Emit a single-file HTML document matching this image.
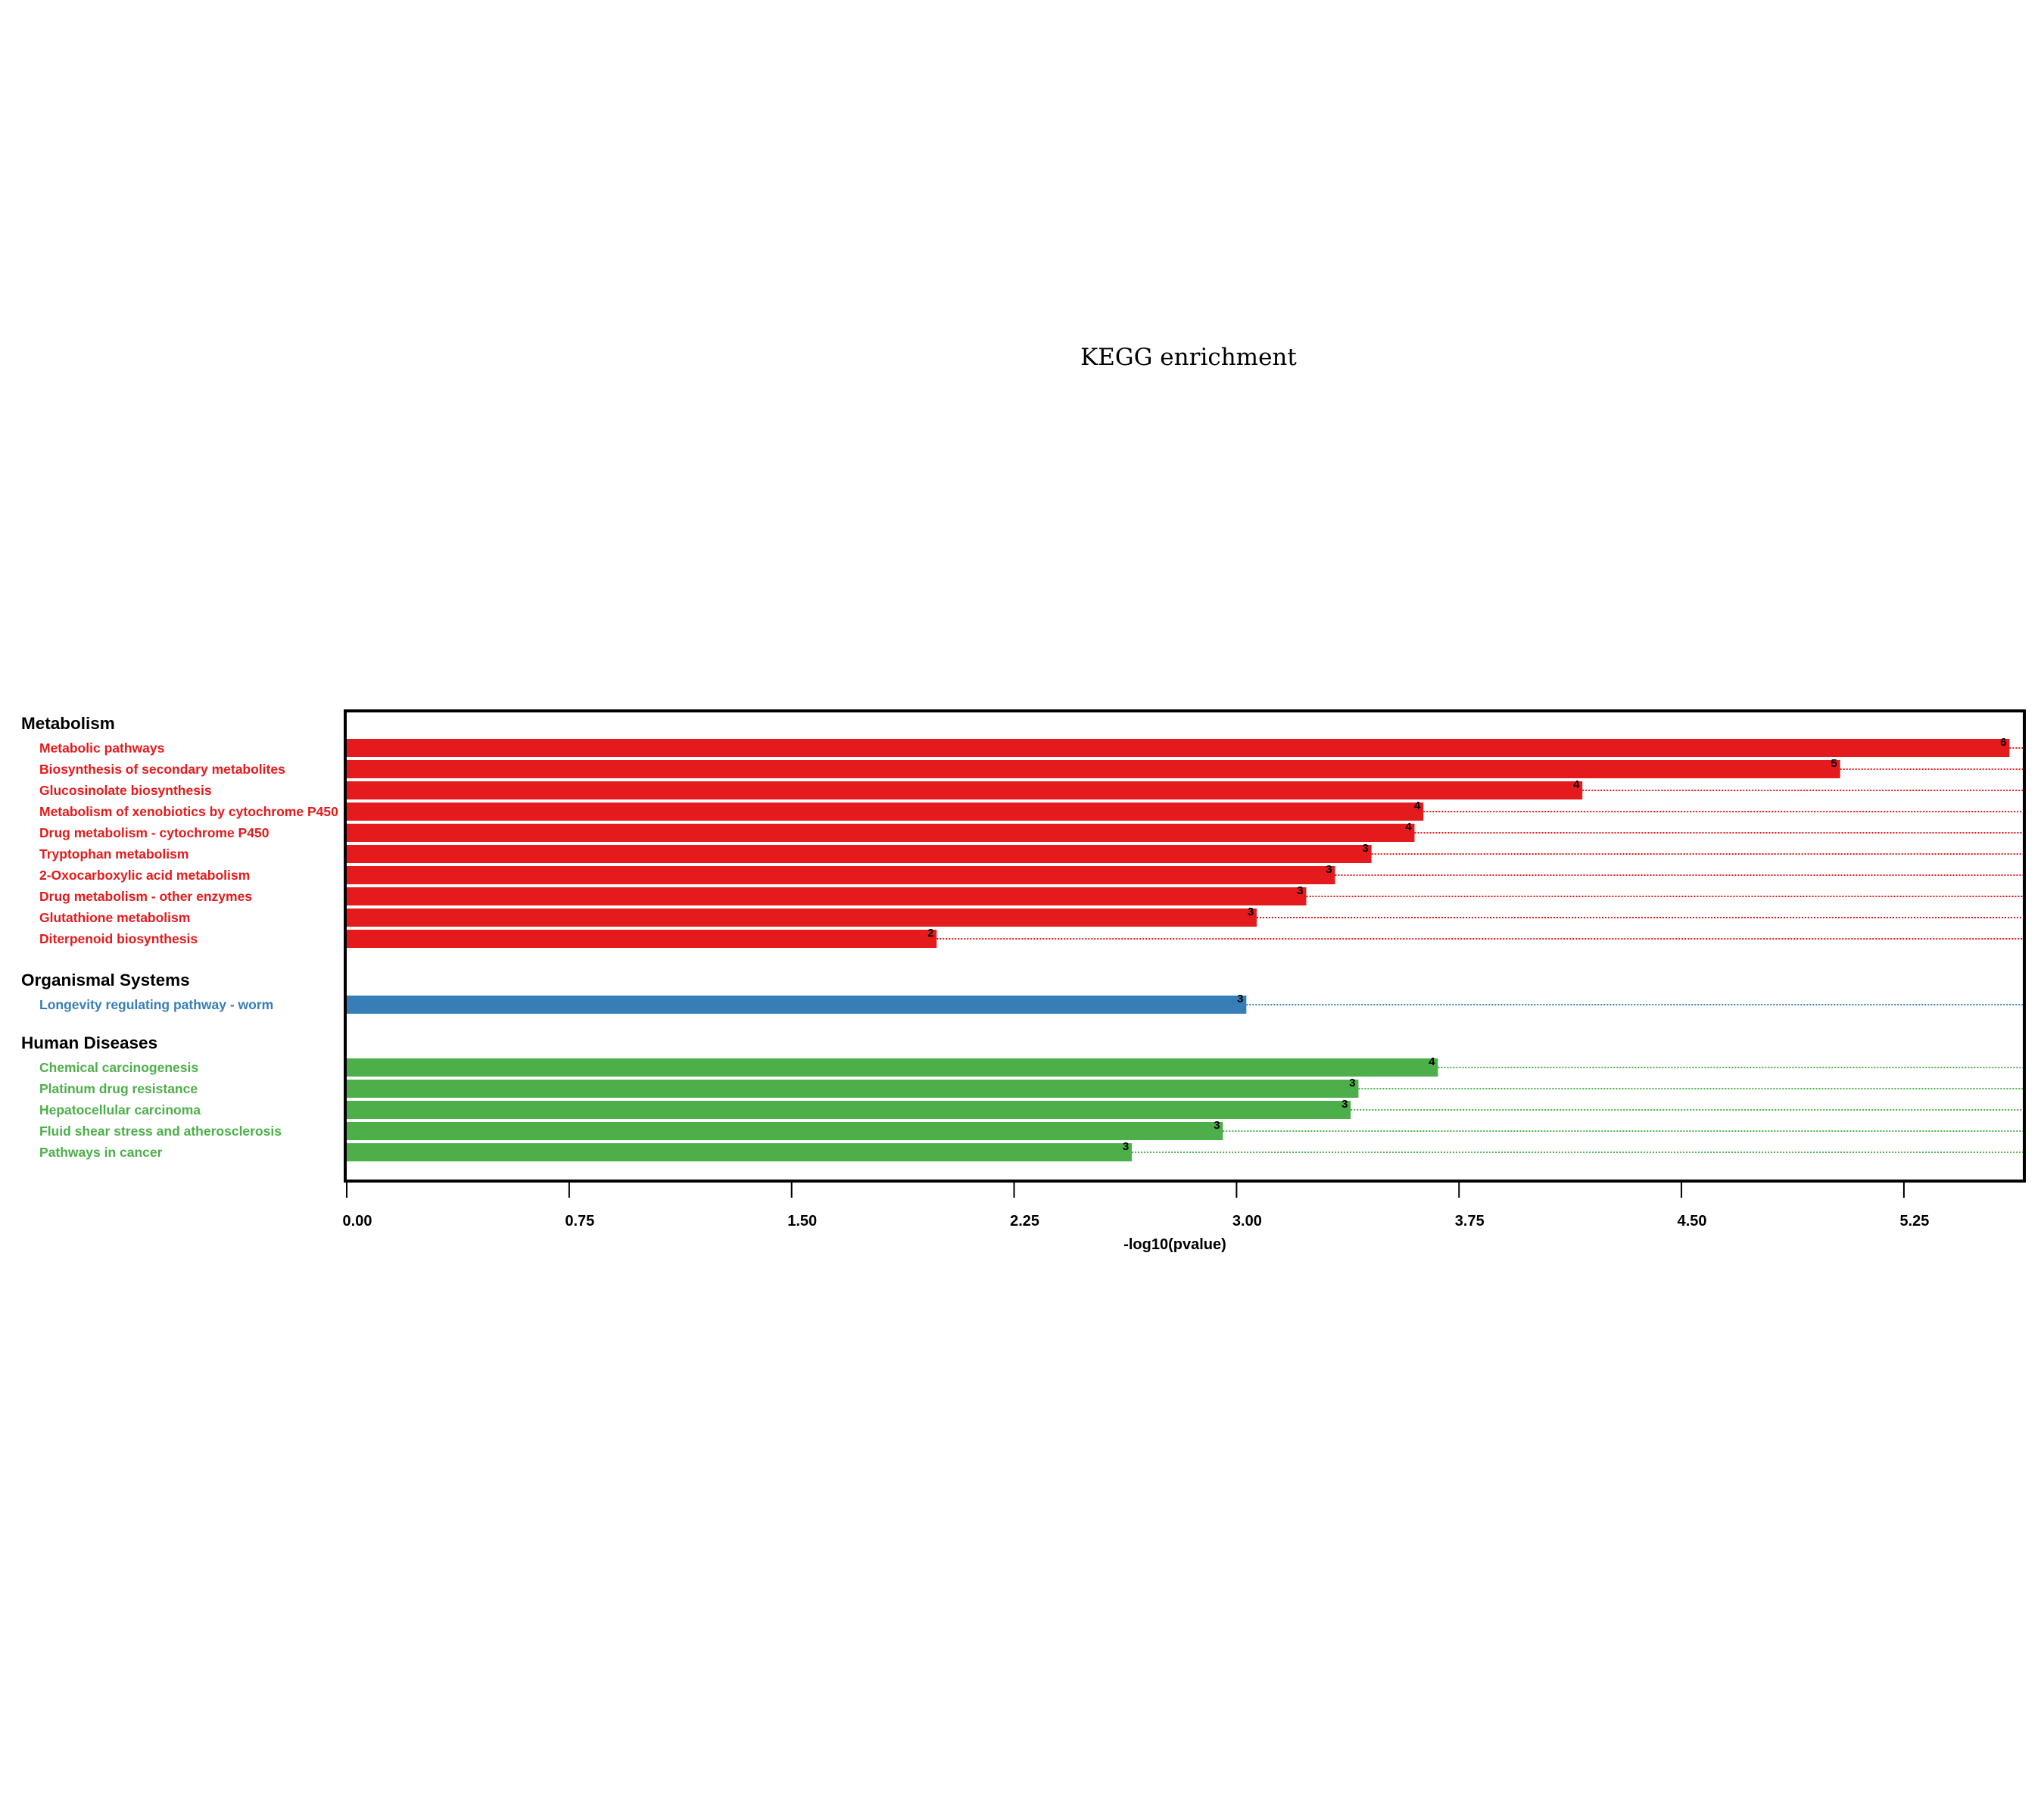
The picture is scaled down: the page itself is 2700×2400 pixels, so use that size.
<!DOCTYPE html>
<html><head><meta charset="utf-8"><style>
html,body{margin:0;padding:0;background:#fff;}
svg{display:block;}
text{font-family:"Liberation Sans","DejaVu Sans",sans-serif;}
</style></head><body>
<svg id="chart" width="2700" height="2400" viewBox="0 0 2700 2400" xmlns="http://www.w3.org/2000/svg">
<rect width="2700" height="2400" fill="#fff"/>
<text x="1570" y="482" text-anchor="middle" font-size="31" style="font-family:'DejaVu Serif','Liberation Serif',serif">KEGG enrichment</text>
<g id="plot"></g>
</svg>
<script>
const categories = ["Metabolism","Metabolism","Metabolism","Metabolism","Metabolism","Metabolism","Metabolism","Metabolism","Metabolism","Metabolism","Organismal Systems","Human Diseases","Human Diseases","Human Diseases","Human Diseases","Human Diseases"];
const pathways = ["Metabolic pathways","Biosynthesis of secondary metabolites","Glucosinolate biosynthesis","Metabolism of xenobiotics by cytochrome P450","Drug metabolism - cytochrome P450","Tryptophan metabolism","2-Oxocarboxylic acid metabolism","Drug metabolism - other enzymes","Glutathione metabolism","Diterpenoid biosynthesis","Longevity regulating pathway - worm","Chemical carcinogenesis","Platinum drug resistance","Hepatocellular carcinoma","Fluid shear stress and atherosclerosis","Pathways in cancer"];
const values = [5.606,5.035,4.166,3.630,3.600,3.455,3.332,3.235,3.068,1.989,3.033,3.679,3.411,3.385,2.954,2.647];
const counts = [6,5,4,4,4,3,3,3,3,2,3,4,3,3,3,3];
const tickValues = [0,0.75,1.5,2.25,3,3.75,4.5,5.25];
const tickLabels = ["0.00","0.75","1.50","2.25","3.00","3.75","4.50","5.25"];
const groups = ["Metabolism","Organismal Systems","Human Diseases"];

const NS="http://www.w3.org/2000/svg";
const g=document.getElementById('plot');
const colors={"Metabolism":"#E41A1C","Organismal Systems":"#377EB8","Human Diseases":"#4DAF4A"};
const L=456,R=2674,T=939,B=1560,X0=458,unit=391.8;
function x(v){return X0+v*unit;}
function mk(tag,attrs,txt){const e=document.createElementNS(NS,tag);for(const k in attrs)e.setAttribute(k,attrs[k]);if(txt!==undefined)e.textContent=txt;g.appendChild(e);return e;}
let y=null, prev=null, gi=0; const rowY=[]; const headY={};
for(let i=0;i<pathways.length;i++){
  if(categories[i]!==prev){
    y = (prev===null) ? 955 : y+(gi===1?54:50);
    gi++;
    headY[categories[i]]=y; y+=33; prev=categories[i];
  } else y+=28;
  rowY.push(y);
}
for(const gname of groups){
  const h=mk('text',{x:28,y:headY[gname]+8,'font-size':22.5,'font-weight':'bold',fill:'#000'},gname);
  
  
}
for(let i=0;i<pathways.length;i++){
  const c=colors[categories[i]], cy=rowY[i];
  const ln=mk('line',{x1:x(values[i]),x2:R-2,y1:cy,y2:cy,stroke:c,'stroke-width':2,'stroke-dasharray':'2,2'});
  
  
  const b=mk('rect',{x:X0,y:cy-12,width:x(values[i])-X0,height:24,fill:c});
  
  
  const t=mk('text',{x:x(values[i])-8,y:cy-3,'font-size':15,'font-weight':'bold','text-anchor':'middle',fill:'#000'},String(counts[i]));
  
  
  const lb=mk('text',{x:52,y:cy+6,'font-size':17.5,'font-weight':'bold',fill:c},pathways[i]);
  
  
}
const fr=mk('rect',{x:L,y:T,width:R-L,height:B-T,fill:'none',stroke:'#000','stroke-width':4});


for(let i=0;i<tickValues.length;i++){
  const tx=x(tickValues[i]);
  const tk=mk('line',{x1:tx,x2:tx,y1:B,y2:B+22,stroke:'#000','stroke-width':2});
  
  
  const tl=mk('text',{x:tx+14,y:1619,'font-size':20,'font-weight':'bold','text-anchor':'middle',fill:'#000'},tickLabels[i]);
  
  
}
const xt=mk('text',{x:1552,y:1650,'font-size':20,'font-weight':'bold','text-anchor':'middle',fill:'#000'},'-log10(pvalue)');


</script>
</body></html>
